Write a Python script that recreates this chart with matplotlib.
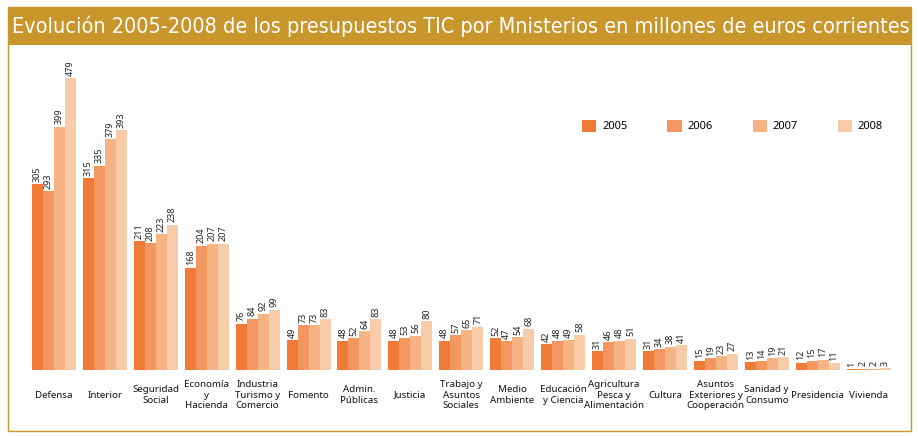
import matplotlib.pyplot as plt
from matplotlib.patches import Rectangle
import numpy as np

categories = ["Defensa", "Interior", "Seguridad\nSocial", "Economía\ny\nHacienda",
              "Industria\nTurismo y\nComercio", "Fomento", "Admin.\nPúblicas", "Justicia",
              "Trabajo y\nAsuntos\nSociales", "Medio\nAmbiente", "Educación\ny Ciencia",
              "Agricultura\nPesca y\nAlimentación", "Cultura", "Asuntos\nExteriores y\nCooperación",
              "Sanidad y\nConsumo", "Presidencia", "Vivienda"]
years = ["2005", "2006", "2007", "2008"]
v2005 = [305, 315, 211, 168, 76, 49, 48, 48, 48, 52, 42, 31, 31, 15, 13, 12, 1]
v2006 = [293, 335, 208, 204, 84, 73, 52, 53, 57, 47, 48, 46, 34, 19, 14, 15, 2]
v2007 = [399, 379, 223, 207, 92, 73, 64, 56, 65, 54, 49, 48, 38, 23, 19, 17, 2]
v2008 = [479, 393, 238, 207, 99, 83, 83, 80, 71, 68, 58, 51, 41, 27, 21, 11, 3]

colors = ["#F07A36", "#F4965F", "#F6B383", "#F8CCA9"]
gold = "#C9962C"
plt.rcParams['font.family'] = ['Noto Sans', 'DejaVu Sans']

W, H = 918, 436
fig = plt.figure(figsize=(W / 100, H / 100), dpi=100)
ax = fig.add_axes([27 / W, 66 / H, 868 / W, 317 / H])

x = np.arange(len(categories))
bw = 0.216
series = [v2005, v2006, v2007, v2008]
for k, vals in enumerate(series):
    pos = x + (k - 1.5) * bw
    ax.bar(pos, vals, width=bw, color=colors[k], label=years[k], linewidth=0)
    for px, v in zip(pos, vals):
        ax.text(px, v + 4, str(v), rotation=90, ha="center", va="bottom",
                fontsize=6.5, color="#222222")

for i, c in enumerate(categories):
    ax.annotate(c, xy=(i, 0), xycoords="data", xytext=(0, -18), textcoords="offset points",
                ha="center", va="center", fontsize=7, linespacing=1.25, color="#111111")

ax.set_xlim(-0.53, 16.52)
ax.set_ylim(0, 520)
ax.axis("off")

fig.legend(loc="center left", bbox_to_anchor=(572 / W, 1 - 126 / H), ncol=4, frameon=False,
           fontsize=8, handlelength=1.3, handleheight=1.3, handletextpad=0.5,
           columnspacing=3.6)

# frame and title bar
fig.patches.append(Rectangle((8 / W, 1 - 431 / H), 903 / W, 424 / H, transform=fig.transFigure,
                             fill=False, edgecolor=gold, linewidth=1.0))
fig.patches.append(Rectangle((8 / W, 1 - 45 / H), 903 / W, 38 / H, transform=fig.transFigure,
                             facecolor=gold, edgecolor="none"))
title = fig.text(12 / W, 1 - 26 / H,
                 "Evolución 2005-2008 de los presupuestos TIC por Mnisterios en millones de euros corrientes",
                 color="white", fontsize=17, va="center", ha="left",
                 family=["DejaVu Sans", "Noto Sans"], fontstretch="condensed")
# shrink title to fit the bar width
renderer = fig.canvas.get_renderer()
w = title.get_window_extent(renderer).width
title.set_fontsize(17 * 894 / w)

fig.savefig("out.png", dpi=100)
